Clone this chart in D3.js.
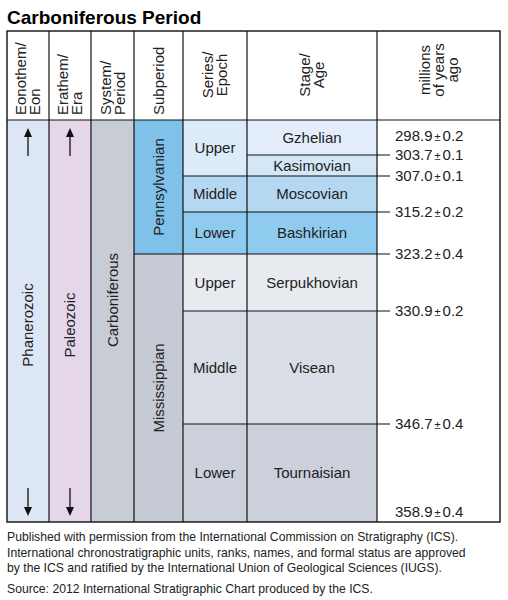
<!DOCTYPE html>
<html><head><meta charset="utf-8">
<script src="https://cdn.jsdelivr.net/npm/d3@7"></script>
<style>body{margin:0;background:#fff}svg{font-family:"Liberation Sans",Arial,sans-serif}</style>
</head><body><svg id="chart"></svg>
<script>
// stages, top (youngest) to bottom
const stages = ["Gzhelian", "Kasimovian", "Moscovian", "Bashkirian", "Serpukhovian", "Visean", "Tournaisian"];
const stageRows = [35, 21, 36, 42, 57, 113, 98]; // drawn height units (chart is not to scale)
const stageColors = ["#e4eefa", "#d4e7f7", "#b5d8f2", "#8fcaef", "#e7eaef", "#d9dde5", "#cbd0da"];
const series = [["Upper", 0, 2, "#dcebfa"], ["Middle", 2, 3, "#b5d8f2"], ["Lower", 3, 4, "#8fcaef"],
                ["Upper", 4, 5, "#e7eaef"], ["Middle", 5, 6, "#d9dde5"], ["Lower", 6, 7, "#cbd0da"]];
const subperiods = [["Pennsylvanian", 0, 4, "#80c1e9"], ["Mississippian", 4, 7, "#c5cad4"]];
const ages = ["298.9", "303.7", "307.0", "315.2", "323.2", "330.9", "346.7", "358.9"];
const ageErr = ["0.2", "0.1", "0.1", "0.2", "0.4", "0.2", "0.4", "0.4"];
const headers = [["Eonothem/", "Eon"], ["Erathem/", "Era"], ["System/", "Period"], ["Subperiod"],
                 ["Series/", "Epoch"], ["Stage/", "Age"], ["millions", "of years", "ago"]];
const notes = ["Published with permission from the International Commission on Stratigraphy (ICS).",
  "International chronostratigraphic units, ranks, names, and formal status are approved",
  "by the ICS and ratified by the International Union of Geological Sciences (IUGS).",
  "Source: 2012 International Stratigraphic Chart produced by the ICS."];

const W = 508, H = 600;
const svg = d3.select("#chart").attr("width", W).attr("height", H);
const colX = [7, 49, 91, 134, 183, 247, 377, 500];
const yTop = 31, headBot = 120, bot = 522;

const cum = [0];
stageRows.forEach(d => cum.push(cum[cum.length - 1] + d));
const y = d3.scaleLinear().domain([0, cum[cum.length - 1]]).range([headBot, bot]);
const yb = i => y(cum[i]);

svg.append("text").attr("x", 7).attr("y", 24).attr("font-size", 19).attr("font-weight", "bold")
  .text("Carboniferous Period");

// full-height columns
const fulls = [["Phanerozoic", "#dde6f4"], ["Paleozoic", "#e5d6ea"], ["Carboniferous", "#c8cdd5"]];
fulls.forEach((f, i) => {
  svg.append("rect").attr("x", colX[i]).attr("y", headBot).attr("width", colX[i + 1] - colX[i])
    .attr("height", bot - headBot).attr("fill", f[1]);
});

subperiods.forEach(s => {
  svg.append("rect").attr("x", colX[3]).attr("y", yb(s[1])).attr("width", colX[4] - colX[3])
    .attr("height", yb(s[2]) - yb(s[1])).attr("fill", s[3]);
});
series.forEach(s => {
  svg.append("rect").attr("x", colX[4]).attr("y", yb(s[1])).attr("width", colX[5] - colX[4])
    .attr("height", yb(s[2]) - yb(s[1])).attr("fill", s[3]);
  svg.append("text").attr("x", (colX[4] + colX[5]) / 2).attr("y", (yb(s[1]) + yb(s[2])) / 2)
    .attr("dy", "0.36em").attr("text-anchor", "middle").attr("font-size", 15).attr("fill", "#222").text(s[0]);
});
svg.selectAll(".stage").data(stages).enter().append("rect")
  .attr("x", colX[5]).attr("y", (d, i) => yb(i)).attr("width", colX[6] - colX[5])
  .attr("height", (d, i) => yb(i + 1) - yb(i)).attr("fill", (d, i) => stageColors[i]);
svg.selectAll(".stageLbl").data(stages).enter().append("text")
  .attr("x", (colX[5] + colX[6]) / 2).attr("y", (d, i) => (yb(i) + yb(i + 1)) / 2).attr("dy", "0.36em")
  .attr("text-anchor", "middle").attr("font-size", 15).attr("fill", "#222").text(d => d);

// rotated labels
function vlabel(txt, cx, cy) {
  svg.append("text").attr("transform", `translate(${cx},${cy}) rotate(-90)`).attr("text-anchor", "middle")
    .attr("dy", "0.36em").attr("font-size", 15).attr("fill", "#222").text(txt);
}
fulls.forEach((f, i) => vlabel(f[0], (colX[i] + colX[i + 1]) / 2, i === 2 ? 300 : 325));
subperiods.forEach(s => vlabel(s[0], (colX[3] + colX[4]) / 2, (yb(s[1]) + yb(s[2])) / 2));

// arrows
[0, 1].forEach(i => {
  const cx = (colX[i] + colX[i + 1]) / 2;
  svg.append("line").attr("x1", cx).attr("x2", cx).attr("y1", 132).attr("y2", 156).attr("stroke", "#111").attr("stroke-width", 1.3);
  svg.append("path").attr("d", `M${cx - 4},${137} L${cx},${128} L${cx + 4},${137}Z`).attr("fill", "#111");
  svg.append("line").attr("x1", cx).attr("x2", cx).attr("y1", 488).attr("y2", 512).attr("stroke", "#111").attr("stroke-width", 1.3);
  svg.append("path").attr("d", `M${cx - 4},${507} L${cx},${516} L${cx + 4},${507}Z`).attr("fill", "#111");
});

// header
headers.forEach((h, i) => {
  const cx = (colX[i] + colX[i + 1]) / 2, n = h.length;
  const ty = i === 6 ? 70 : (i >= 4 ? 75 : 115);
  const t = svg.append("text").attr("transform", `translate(${cx},${ty}) rotate(-90)`)
    .attr("text-anchor", i >= 4 ? "middle" : "start").attr("font-size", 15).attr("fill", "#222");
  h.forEach((l, k) => t.append("tspan").attr("x", 0).attr("y", (k - (n - 1) / 2) * 14 + 5).text(l));
});

// grid lines
const line = (x1, y1, x2, y2) => svg.append("line").attr("x1", x1).attr("y1", y1).attr("x2", x2).attr("y2", y2)
  .attr("stroke", "#111").attr("stroke-width", 1.2);
colX.slice(1, -1).forEach(x => line(x, yTop, x, bot));
line(colX[0], headBot, colX[7], headBot);
[1, 2, 3, 4, 5, 6].forEach(i => {
  const x0 = i === 4 ? colX[3] : (i === 1 ? colX[5] : colX[4]);
  line(x0, yb(i), colX[6] + 13, yb(i));
});
svg.append("rect").attr("x", colX[0]).attr("y", yTop).attr("width", colX[7] - colX[0]).attr("height", bot - yTop)
  .attr("fill", "none").attr("stroke", "#111").attr("stroke-width", 1.4);

// ages
ages.forEach((a, i) => {
  const yy = i === 0 ? yb(0) + 16 : i === 7 ? yb(7) - 10 : yb(i);
  const t = svg.append("text").attr("x", 395).attr("y", yy).attr("dy", "0.36em").attr("font-size", 15).attr("fill", "#222");
  t.append("tspan").text(a);
  t.append("tspan").attr("font-size", 11).attr("dx", 2).text("±");
  t.append("tspan").attr("dx", 2).text(ageErr[i]);
});

notes.forEach((n, i) => {
  svg.append("text").attr("x", 7).attr("y", 541 + i * 15.5 + (i === 3 ? 5 : 0)).attr("font-size", 12.2)
    .attr("fill", "#222").text(n);
});
</script></body></html>
